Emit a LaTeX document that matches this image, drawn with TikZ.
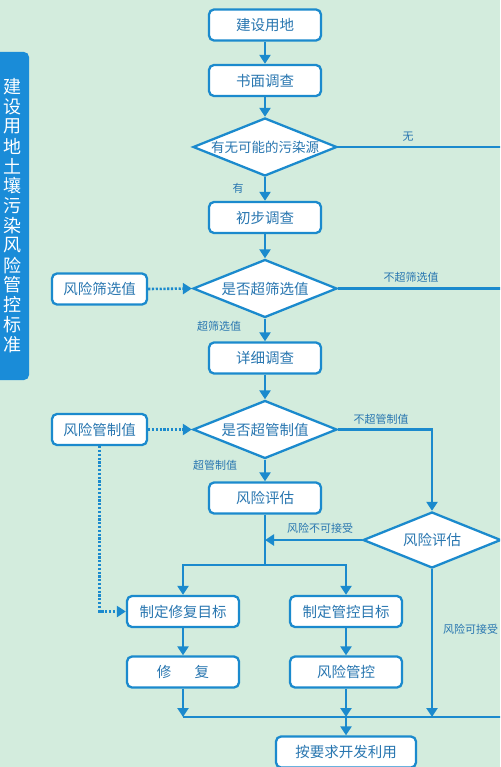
\documentclass[tikz,border=0pt]{standalone}
\usepackage{fontspec}
\setmainfont{Noto Sans CJK SC}
\usetikzlibrary{arrows.meta,shapes.geometric}
\definecolor{BackClr}{RGB}{211,236,221}
\definecolor{LineClr}{RGB}{27,138,205}
\definecolor{TextClr}{RGB}{40,118,176}
\definecolor{BannerClr}{RGB}{26,140,216}

\begin{document}
\begin{tikzpicture}[x=1pt,y=-1pt,
  box/.style={draw=LineClr,line width=2.3pt,fill=white,rounded corners=5pt,
    minimum width=112pt,minimum height=31pt,inner sep=0pt,text=TextClr,
    font=\fontsize{14.5}{15}\selectfont},
  limitbox/.style={box,minimum width=95pt},
  decision/.style={diamond,aspect=2.5,draw=LineClr,line width=2.3pt,fill=white,
    minimum width=144pt,minimum height=58pt,inner sep=0pt,text=TextClr,
    font=\fontsize{14.5}{15}\selectfont},
  link/.style={draw=LineClr,line width=2.6pt},
  flow/.style={link,-{Triangle[width=11pt,length=9pt]}},
  limit/.style={flow,dash pattern=on 2.2pt off 1.6pt},
  tag/.style={text=TextClr,inner sep=1pt,font=\fontsize{11}{11}\selectfont}]

\clip (0,0) rectangle (500,767);
\fill[BackClr] (0,0) rectangle (500,767);

% banner
\fill[BannerClr,rounded corners=5pt] (-10,52) rectangle (29,380);
\foreach \c [count=\i] in {建,设,用,地,土,壤,污,染,风,险,管,控,标,准}
  \node[text=white,inner sep=0pt,font=\fontsize{18}{18}\selectfont] (b\i) at (12,87+19.8*\i-19.8) {\c};

% main column
\node[box] (site) at (265,25) {建设用地};
\node[box] (desk) at (265,80.5) {书面调查};
\node[decision,font=\fontsize{13.5}{14}\selectfont] (source) at (265,147) {有无可能的污染源};
\node[box] (prelim) at (265,217.5) {初步调查};
\node[decision] (screen) at (265,288.5) {是否超筛选值};
\node[box] (detail) at (265,358) {详细调查};
\node[decision] (control) at (265,429.5) {是否超管制值};
\node[box] (assess) at (265,498) {风险评估};
\node[decision,minimum width=138pt,minimum height=56pt] (judge) at (432,540) {风险评估};

\node[limitbox] (screenval) at (99.5,289) {风险筛选值};
\node[limitbox] (controlval) at (99.5,429.5) {风险管制值};

\node[box] (goalfix) at (183,611.5) {制定修复目标};
\node[box] (goalctl) at (346,611.5) {制定管控目标};
\node[box] (repair) at (183,672) {修\hspace{1.6em}复};
\node[box] (manage) at (346,672) {风险管控};
\node[box,minimum width=140pt] (use) at (346,752) {按要求开发利用};

\coordinate (edgeA) at (510,147);
\coordinate (edgeB) at (510,288.5);
\coordinate (edgeC) at (510,717);
\coordinate (split) at (265,565);
\coordinate (meet) at (265,540);
\coordinate (base) at (0,717);

% connectors
\draw[flow] (site) -- (desk);
\draw[flow] (desk) -- (source);
\draw[flow] (source) -- (prelim);
\draw[link] (source.east) -- (edgeA);
\draw[flow] (prelim) -- (screen);
\draw[link] (screen.east) -- (edgeB);
\draw[flow] (screen) -- (detail);
\draw[flow] (detail) -- (control);
\draw[flow] (control) -- (assess);
\draw[flow] (control.east) -| (judge.north);
\draw[link] (assess.south) -- (split);
\draw[flow] (split) -| (goalfix.north);
\draw[flow] (split) -| (goalctl.north);
\draw[flow] (judge.west) -- (meet);
\draw[flow] (goalfix) -- (repair);
\draw[flow] (goalctl) -- (manage);
\draw[flow] (repair.south) -- (repair.south |- base);
\draw[flow] (manage.south) -- (manage.south |- base);
\draw[flow] (judge.south) -- (judge.south |- base);
\draw[link] (repair.south |- base) -- (edgeC);
\draw[flow] (manage.south |- base) -- (use.north);

\draw[limit] (screenval.east) -- (screen.west);
\draw[limit] (controlval.east) -- (control.west);
\draw[limit] (controlval.south) |- (goalfix.west);

% labels
\node[tag] (lyes) at (238,188) {有};
\node[tag] (lno) at (408,137) {无};
\node[tag] (lscrno) at (411,277) {不超筛选值};
\node[tag] (lscr) at (219,326) {超筛选值};
\node[tag] (lctlno) at (381,419) {不超管制值};
\node[tag] (lctl) at (215,465) {超管制值};
\node[tag] (lbad) at (320,528) {风险不可接受};
\node[tag,anchor=west] (lok) at (442,629) {风险可接受};

\end{tikzpicture}
\end{document}
